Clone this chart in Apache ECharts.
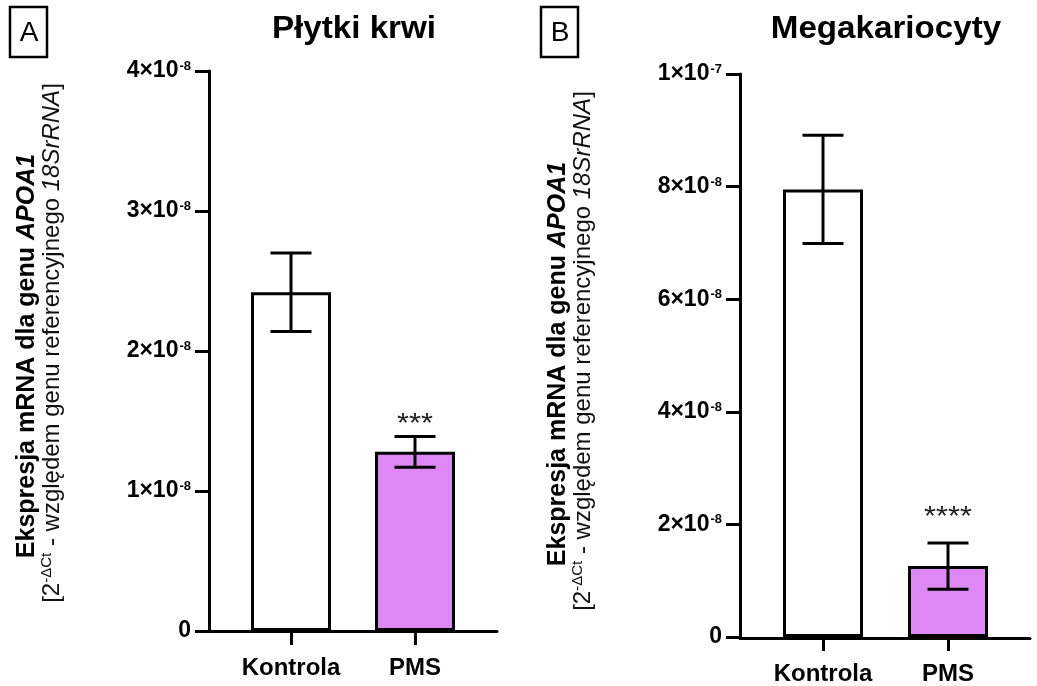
<!DOCTYPE html>
<html><head><meta charset="utf-8">
<script src="https://cdn.jsdelivr.net/npm/echarts@6/dist/echarts.min.js"></script>
<style>html,body{margin:0;padding:0;background:#fff}#c{width:1037px;height:686px}</style>
</head><body><div id="c"></div>
<script>
// ---- data ----
const categories = ['Kontrola', 'PMS'];
const plateletMean = [2.42e-8, 1.28e-8];
const plateletErr = [0.28e-8, 0.11e-8];
const plateletSig = ['', '***'];
const megaMean = [7.95e-8, 1.26e-8];
const megaErr = [0.96e-8, 0.41e-8];
const megaSig = ['', '****'];
const tickMantA = ['0', '1×10', '2×10', '3×10', '4×10'];
const tickExpA = ['', '-8', '-8', '-8', '-8'];
const tickMantB = ['0', '2×10', '4×10', '6×10', '8×10', '1×10'];
const tickExpB = ['', '-8', '-8', '-8', '-8', '-7'];
const titleA = 'Płytki krwi';
const titleB = 'Megakariocyty';
const barColors = ['#ffffff', '#dd88f5'];

const FF = 'Liberation Sans, Arial, Helvetica, sans-serif';
const BLACK = '#000';

const chart = echarts.init(document.getElementById('c'), null, {renderer: 'canvas'});

function tickFormatter(mant, exp, interval) {
  return function (v) {
    const i = Math.round(v / interval);
    if (!exp[i]) return '{m|' + mant[i] + '}';
    return '{m|' + mant[i] + '}{s|' + exp[i] + '}';
  };
}
const tickRich = {
  m: {fontFamily: FF, fontWeight: 'bold', fontSize: 23, color: BLACK, lineHeight: 24},
  s: {fontFamily: FF, fontWeight: 'bold', fontSize: 13, color: BLACK, lineHeight: 13, verticalAlign: 'top', padding: [1, 0, 0, 1]}
};

function yAxisCfg(grid, max, interval, mant, exp, offset) {
  return {
    type: 'value', gridIndex: grid, min: 0, max: max, interval: interval, offset: offset,
    axisLine: {show: true, lineStyle: {color: BLACK, width: 3}},
    axisTick: {show: true, length: 14, lineStyle: {color: BLACK, width: 3}},
    splitLine: {show: false},
    axisLabel: {margin: 18, formatter: tickFormatter(mant, exp, interval), rich: tickRich}
  };
}
function xAxisCfg(grid) {
  return {
    type: 'category', gridIndex: grid, data: categories,
    axisLine: {show: false},
    axisTick: {show: true, interval: 0, alignWithLabel: true, length: 14, lineStyle: {color: BLACK, width: 3}},
    axisLabel: {interval: 0, hideOverlap: false, margin: 25, fontFamily: FF, fontWeight: 'bold', fontSize: 24, color: BLACK}
  };
}
function helperX(grid) {
  return {type: 'value', gridIndex: grid, min: 0, max: 1, position: 'bottom',
    axisLine: {show: true, onZero: false, lineStyle: {color: BLACK, width: 3}},
    axisTick: {show: false}, axisLabel: {show: false}, splitLine: {show: false}};
}
function helperY(grid) {
  return {type: 'value', gridIndex: grid, min: 0, max: 1, show: false};
}
function barSeries(ax, means) {
  return {
    type: 'bar', xAxisIndex: ax, yAxisIndex: ax, barWidth: 80,
    data: means.map((v, i) => ({value: v, itemStyle: {color: barColors[i]}})),
    itemStyle: {borderColor: BLACK, borderWidth: 3}, z: 2, silent: true
  };
}
function errSeries(ax, means, errs, sigs, sigOffset) {
  return {
    type: 'custom', xAxisIndex: ax, yAxisIndex: ax, z: 5, silent: true,
    data: means.map((m, i) => [i, m, errs[i]]),
    renderItem: function (params, api) {
      const i = api.value(0), m = api.value(1), e = api.value(2);
      const top = api.coord([i, m + e]);
      const bot = api.coord([i, m - e]);
      const x = top[0];
      const hw = 20.5;
      const st = {stroke: BLACK, lineWidth: 3};
      const children = [
        {type: 'line', shape: {x1: x, y1: top[1], x2: x, y2: bot[1]}, style: st},
        {type: 'line', shape: {x1: x - hw, y1: top[1], x2: x + hw, y2: top[1]}, style: st},
        {type: 'line', shape: {x1: x - hw, y1: bot[1], x2: x + hw, y2: bot[1]}, style: st}
      ];
      const sig = sigs[params.dataIndex];
      if (sig) {
        children.push({type: 'text', x: x, y: top[1] - sigOffset + 7, scaleX: 1.1,
          style: {text: sig, x: 0, y: 0, align: 'center', verticalAlign: 'middle', textAlign: 'center', textVerticalAlign: 'middle',
            fill: '#222', font: '28px ' + FF}});
      }
      return {type: 'group', children: children};
    }
  };
}

const yTitleRich = {
  b: {fontFamily: FF, fontWeight: 'bold', fontSize: 25, fill: BLACK, color: BLACK},
  bi: {fontFamily: FF, fontWeight: 'bold', fontStyle: 'italic', fontSize: 25, fill: BLACK, color: BLACK},
  r: {fontFamily: FF, fontSize: 24, fill: '#111', color: '#111', lineHeight: 26},
  ri: {fontFamily: FF, fontStyle: 'italic', fontSize: 24, fill: '#111', color: '#111', lineHeight: 26},
  sup: {fontFamily: FF, fontSize: 15, fill: '#111', color: '#111', lineHeight: 15, verticalAlign: 'top'}
};
const yLine1 = '{b|Ekspresja mRNA dla genu }{bi|APOA1}';
const yLine2 = '{r|[2}{sup|-ΔCt}{r| - względem genu referencyjnego }{ri|18SrRNA}{r|]}';

function panelGraphics(dx, dy, letter, title, titleX) {
  return [
    {type: 'rect', shape: {x: 10 + dx, y: 7, width: 37, height: 50},
      style: {fill: '#fff', stroke: BLACK, lineWidth: 2.5}, silent: true},
    {type: 'text', x: 29 + dx, y: 33, silent: true,
      style: {text: letter, align: 'center', verticalAlign: 'middle', textAlign: 'center', textVerticalAlign: 'middle',
        fill: BLACK, font: '28px ' + FF}},
    {type: 'text', x: titleX, y: 29, scaleX: 1.07, silent: true,
      style: {text: title, align: 'center', verticalAlign: 'middle', textAlign: 'center', textVerticalAlign: 'middle',
        fill: BLACK, font: 'bold 31px ' + FF}},
    {type: 'text', x: 27 + dx, y: 356 + dy, rotation: Math.PI / 2, silent: true,
      style: {text: yLine1, rich: yTitleRich, align: 'center', verticalAlign: 'middle', textAlign: 'center', textVerticalAlign: 'middle', fill: BLACK}},
    {type: 'text', x: 52 + dx, y: 343 + dy, rotation: Math.PI / 2, silent: true,
      style: {text: yLine2, rich: yTitleRich, align: 'center', verticalAlign: 'middle', textAlign: 'center', textVerticalAlign: 'middle', fill: '#111'}}
  ];
}

const option = {
  backgroundColor: '#fff',
  animation: false,
  grid: [
    {left: 229, top: 71, width: 248, height: 560},
    {left: 760.5, top: 74, width: 250, height: 563.75},
    {left: 209, top: 71, width: 288, height: 560},
    {left: 740, top: 74, width: 290, height: 563.75}
  ],
  xAxis: [xAxisCfg(0), xAxisCfg(1), helperX(2), helperX(3)],
  yAxis: [
    yAxisCfg(0, 4e-8, 1e-8, tickMantA, tickExpA, 20),
    yAxisCfg(1, 1e-7, 2e-8, tickMantB, tickExpB, 20.5),
    helperY(2), helperY(3)
  ],
  series: [
    barSeries(0, plateletMean),
    errSeries(0, plateletMean, plateletErr, plateletSig, 19),
    barSeries(1, megaMean),
    errSeries(1, megaMean, megaErr, megaSig, 33)
  ],
  graphic: {elements: [].concat(panelGraphics(0, 0, 'A', titleA, 354), panelGraphics(531, 8, 'B', titleB, 886))}
};
chart.setOption(option);
</script></body></html>
